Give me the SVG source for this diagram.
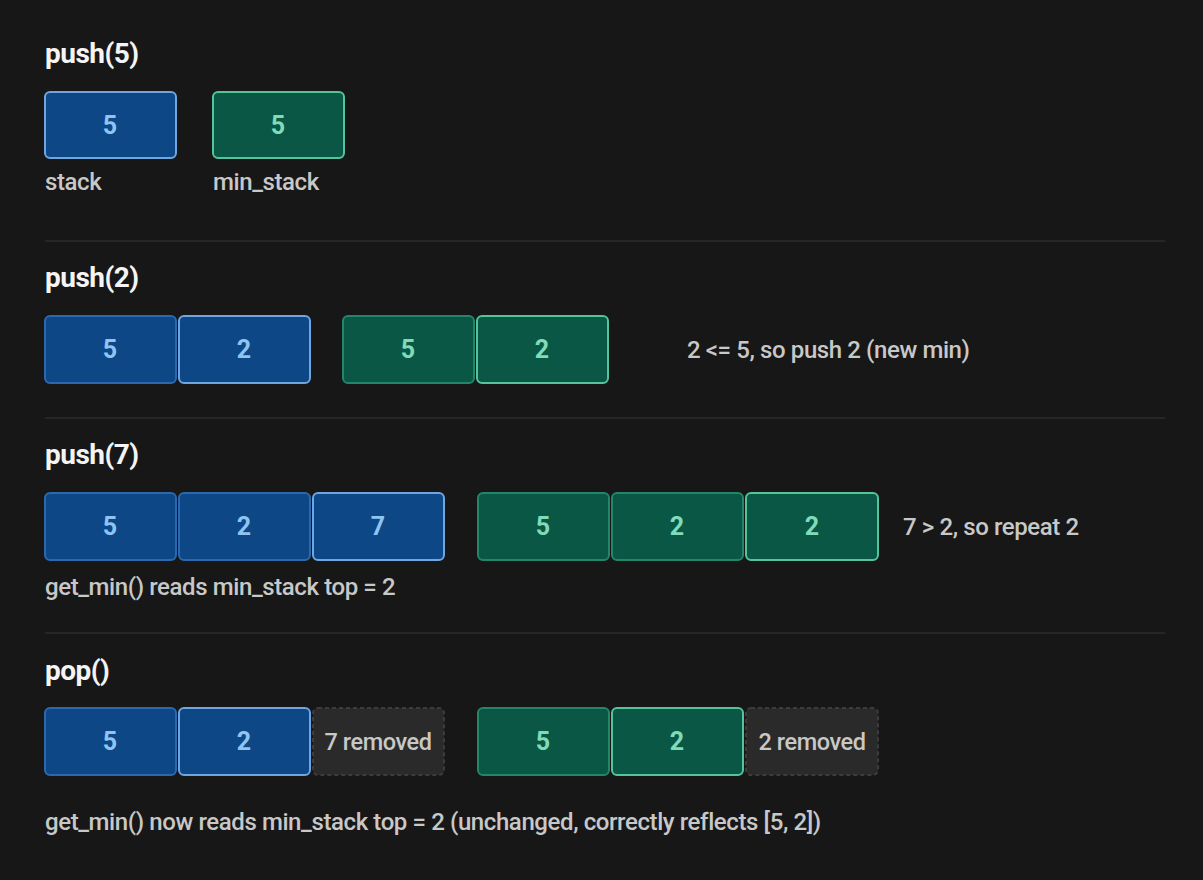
<svg xmlns="http://www.w3.org/2000/svg" width="1203" height="880" viewBox="0 0 1203 880">
<style>
text{font-family:Roboto,"Liberation Sans",sans-serif}
.h{font-size:28px;font-weight:bold;fill:#f4f4f4;letter-spacing:-0.5px}
.lb{font-size:24px;fill:#c8c8c8;font-weight:500;letter-spacing:-0.4px}
.b rect{fill:#0e4786;stroke:#2c68ad;stroke-width:2}
.b.t rect{stroke:#6fa6e0}
.b text{fill:#8fc4f2;font-size:25px;font-weight:bold;text-anchor:middle}
.g rect{fill:#0a5745;stroke:#23866a;stroke-width:2}
.g.t rect{stroke:#55c49a}
.g text{fill:#80dbb8;font-size:25px;font-weight:bold;text-anchor:middle}
.r rect{fill:#2a2a2a;stroke:#3c3c3c;stroke-width:2;stroke-dasharray:4 3}
.r text{fill:#c8c8c8;font-size:23.5px;font-weight:500;letter-spacing:-0.4px;text-anchor:middle}
.d{stroke:#262626;stroke-width:2}
</style>
<rect width="1203" height="880" fill="#171717"/>
<g id="dividers"><line class="d" x1="45" y1="241" x2="1165" y2="241"/><line class="d" x1="45" y1="418" x2="1165" y2="418"/><line class="d" x1="45" y1="633" x2="1165" y2="633"/></g>
<text class="h" x="45" y="63">push(5)</text>
<g id="s1a" class="b t"><rect x="45" y="92" width="131" height="66" rx="5"/><text x="110" y="134">5</text></g>
<g id="m1a" class="g t"><rect x="213" y="92" width="131" height="66" rx="5"/><text x="278" y="134">5</text></g>
<text class="lb" x="45" y="190">stack</text><text class="lb" x="213" y="190">min_stack</text>
<text class="h" x="45" y="287">push(2)</text>
<g id="s2a" class="b"><rect x="45" y="316" width="131" height="67" rx="5"/><text x="110" y="358">5</text></g>
<g id="s2b" class="b t"><rect x="179" y="316" width="131" height="67" rx="5"/><text x="244" y="358">2</text></g>
<g id="m2a" class="g"><rect x="343" y="316" width="131" height="67" rx="5"/><text x="408" y="358">5</text></g>
<g id="m2b" class="g t"><rect x="477" y="316" width="131" height="67" rx="5"/><text x="542" y="358">2</text></g>
<text class="lb" x="687" y="358">2 &lt;= 5, so push 2 (new min)</text>
<text class="h" x="45" y="464">push(7)</text>
<g id="s3a" class="b"><rect x="45" y="493" width="131" height="67" rx="5"/><text x="110" y="535">5</text></g>
<g id="s3b" class="b"><rect x="179" y="493" width="131" height="67" rx="5"/><text x="244" y="535">2</text></g>
<g id="s3c" class="b t"><rect x="313" y="493" width="131" height="67" rx="5"/><text x="378" y="535">7</text></g>
<g id="m3a" class="g"><rect x="478" y="493" width="131" height="67" rx="5"/><text x="543" y="535">5</text></g>
<g id="m3b" class="g"><rect x="612" y="493" width="131" height="67" rx="5"/><text x="677" y="535">2</text></g>
<g id="m3c" class="g t"><rect x="746" y="493" width="132" height="67" rx="5"/><text x="812" y="535">2</text></g>
<text class="lb" x="903" y="535">7 &gt; 2, so repeat 2</text>
<text class="lb" x="45" y="595">get_min() reads min_stack top = 2</text>
<text class="h" x="45" y="680">pop()</text>
<g id="s4a" class="b"><rect x="45" y="708" width="131" height="67" rx="5"/><text x="110" y="750">5</text></g>
<g id="s4b" class="b t"><rect x="179" y="708" width="131" height="67" rx="5"/><text x="244" y="750">2</text></g>
<g id="s4c" class="r"><rect x="313" y="708" width="131" height="67" rx="5"/><text x="378" y="750">7 removed</text></g>
<g id="m4a" class="g"><rect x="478" y="708" width="131" height="67" rx="5"/><text x="543" y="750">5</text></g>
<g id="m4b" class="g t"><rect x="612" y="708" width="131" height="67" rx="5"/><text x="677" y="750">2</text></g>
<g id="m4c" class="r"><rect x="746" y="708" width="132" height="67" rx="5"/><text x="812" y="750">2 removed</text></g>
<text class="lb" x="45" y="830">get_min() now reads min_stack top = 2 (unchanged, correctly reflects [5, 2])</text>
<g id="connectors"/>
</svg>
